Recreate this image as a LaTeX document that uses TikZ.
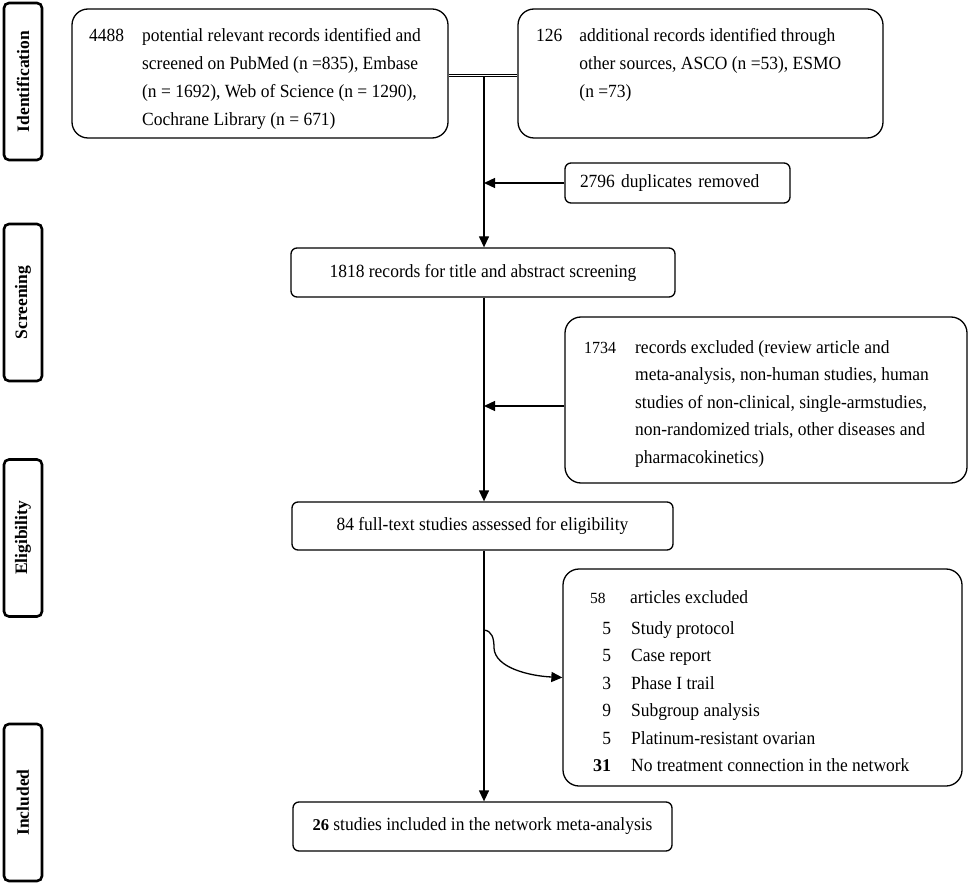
\documentclass[tikz,border=0pt]{standalone}
\usepackage{fontspec}
\setmainfont{Liberation Serif}[FakeStretch=0.94]
\newfontfamily\labelfont{Liberation Serif}
\usetikzlibrary{arrows.meta,calc}
\newcommand{\bodyfont}{\fontsize{18.6}{28}\selectfont}
\begin{document}
\begin{tikzpicture}[x=1pt,y=-1pt,
  stagebox/.style={draw, line width=2.6pt, rounded corners=5pt, rotate=90,
    minimum width=157pt, minimum height=38pt, inner sep=0pt,
    font=\labelfont\fontsize{17.5}{20}\selectfont\bfseries},
  bigbox/.style={draw, line width=1.3pt, rounded corners=16pt, inner sep=0pt},
  smallbox/.style={draw, line width=1.3pt, rounded corners=6pt, inner sep=0pt, font=\bodyfont},
  txt/.style={anchor=north west, inner sep=0pt, font=\bodyfont},
  arr/.style={line width=1.3pt, -{Triangle[length=11pt,width=10pt]}},
  conn/.style={line width=1.3pt}
]
\useasboundingbox (0,0) rectangle (969,885);

% stage labels
\node[stagebox] (sid) at (23,81.5) {Identification};
\node[stagebox] (ssc) at (23,302.5) {Screening};
\node[stagebox] (sel) at (23,538) {Eligibility};
\node[stagebox] (sin) at (23,802.5) {Included};

% identification boxes
\node[bigbox, minimum width=376pt, minimum height=129pt] (b1) at (260,73.5) {};
\node[txt] (b1t) at (89,21.4) {\begin{tabular}{@{}l@{\hspace{18pt}}l@{}}
4488 & potential relevant records identified and\\
 & screened on PubMed (n =835), Embase\\
 & (n = 1692), Web of Science (n = 1290),\\
 & Cochrane Library (n = 671)
\end{tabular}};

\node[bigbox, minimum width=365pt, minimum height=129pt] (b2) at (700.5,73.5) {};
\node[txt] (b2t) at (536,21.4) {\begin{tabular}{@{}l@{\hspace{17pt}}l@{}}
126 & additional records identified through\\
 & other sources, ASCO (n =53), ESMO\\
 & (n =73)
\end{tabular}};

\draw[double=white, double distance=1.6pt, line width=0.9pt]
  ($(b1.east)+(0,2)$) -- ($(b2.west)+(0,2)$);
\coordinate (j) at (484,77);

% duplicates
\node[smallbox, minimum width=225pt, text width=195pt, inner xsep=15pt, align=left,
  minimum height=40pt] (dup) at (677.5,183) {2796 duplicates removed};

% screening
\node[smallbox, minimum width=384pt, minimum height=49pt] (b1818) at (483,272.5)
  {1818 records for title and abstract screening};

\draw[arr] (j) -- (j |- b1818.north);
\draw[arr] (dup.west) -- (dup.west -| j);

% excluded records
\node[bigbox, minimum width=402pt, minimum height=166pt] (b1734) at (766,400) {};
\node[txt, font=\fontsize{18.6}{27.5}\selectfont] (b1734t) at (584,333.75) {\begin{tabular}{@{}l@{\hspace{19pt}}l@{}}
{\fontsize{17}{27.5}\selectfont 1734} & records excluded (review article and\\
 & meta-analysis, non-human studies, human\\
 & studies of non-clinical, single-armstudies,\\
 & non-randomized trials, other diseases and\\
 & pharmacokinetics)
\end{tabular}};

% eligibility
\node[smallbox, minimum width=381pt, minimum height=48pt] (b84) at (482.5,526)
  {84 full-text studies assessed for eligibility};

\draw[arr] (b1818.south -| j) -- (b84.north -| j);
\draw[arr] ([yshift=-6pt]b1734.west) -- ([yshift=-6pt]b1734.west -| j);

% articles excluded
\node[bigbox, minimum width=399pt, minimum height=217pt] (b58) at (762.5,677.5) {};
\node[anchor=base west, inner sep=0pt, font=\labelfont\fontsize{15.5}{20}\selectfont] (h58) at (590,603) {58};
\node[anchor=base west, inner sep=0pt, font=\bodyfont] (h58t) at (630,603) {articles excluded};
\node[txt, font=\fontsize{18.6}{27.5}\selectfont] (i58) at (593,614.75) {\begin{tabular}{@{}r@{\hspace{20pt}}l@{}}
5 & Study protocol\\
5 & Case report\\
3 & Phase I trail\\
9 & Subgroup analysis\\
5 & Platinum-resistant ovarian\\
{\labelfont\fontsize{18}{20}\selectfont\bfseries 31} & No treatment connection in the network
\end{tabular}};

% included
\node[smallbox, minimum width=379pt, minimum height=49pt] (b26) at (482.5,826.5)
  {{\labelfont\fontsize{16.5}{20}\selectfont\bfseries 26} studies included in the network meta-analysis};

\draw[arr] (b84.south -| j) -- (b26.north -| j);
\coordinate (cs) at (484,630);
\draw[arr] (cs) .. controls (492,631) and (494,638) .. (494,648)
  .. controls (495,668) and (530,676) .. (b58.west);

\end{tikzpicture}
\end{document}
